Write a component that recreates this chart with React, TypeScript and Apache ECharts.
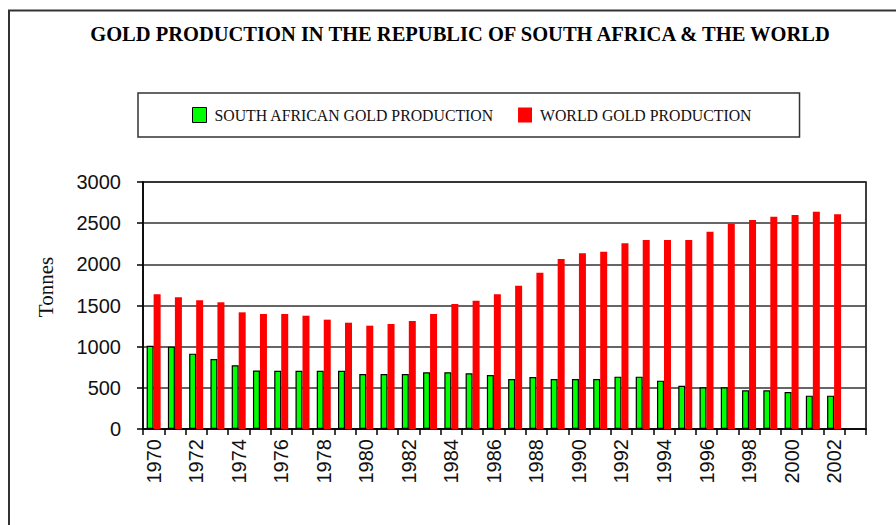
import React, { useEffect, useRef } from "react";
import * as echarts from "echarts";

const years: string[] = [
  "1970", "1971", "1972", "1973", "1974", "1975", "1976", "1977", "1978", "1979",
  "1980", "1981", "1982", "1983", "1984", "1985", "1986", "1987", "1988", "1989",
  "1990", "1991", "1992", "1993", "1994", "1995", "1996", "1997", "1998", "1999",
  "2000", "2001", "2002", "",
];

const southAfrica: number[] = [
  1010, 1000, 915, 850, 775, 710, 708, 708, 708, 708,
  668, 668, 668, 688, 688, 676, 656, 607, 632, 607,
  607, 607, 636, 636, 587, 526, 506, 506, 470, 470,
  449, 405, 405,
];

const world: number[] = [
  1636, 1600, 1563, 1539, 1417, 1397, 1397, 1376, 1328, 1291,
  1255, 1275, 1312, 1397, 1518, 1559, 1636, 1741, 1899, 2065,
  2134, 2154, 2255, 2296, 2296, 2296, 2397, 2494, 2539, 2579,
  2599, 2640, 2608,
];

const yTicks = { min: 0, max: 3000, interval: 500 };

const TITLE = "GOLD PRODUCTION IN THE REPUBLIC OF SOUTH AFRICA & THE WORLD";
const SA_NAME = "SOUTH AFRICAN GOLD PRODUCTION";
const WORLD_NAME = "WORLD GOLD PRODUCTION";

export default function App() {
  const ref = useRef<HTMLDivElement>(null);

  useEffect(() => {
    if (!ref.current) return;
    const chart = echarts.init(ref.current, undefined, { renderer: "svg" });
    chart.setOption({
      animation: false,
      backgroundColor: "#ffffff",
      title: {
        text: TITLE,
        left: 460,
        textAlign: "center",
        top: 23,
        padding: 0,
        textStyle: {
          fontFamily: "Liberation Serif",
          fontWeight: "bold",
          fontSize: 20.5,
          color: "#000",
        },
      },
      legend: {
        left: 138,
        top: 93,
        padding: [14, 48, 14, 54],
        borderColor: "#333",
        borderWidth: 1.5,
        itemWidth: 14,
        itemHeight: 15,
        itemGap: 24,
        icon: "rect",
        textStyle: {
          fontFamily: "Liberation Serif",
          fontSize: 15.8,
          color: "#111",
          padding: [0, 0, 0, 3],
        },
        data: [
          { name: SA_NAME, itemStyle: { color: "#00ff00", borderColor: "#000", borderWidth: 1 } },
          { name: WORLD_NAME, itemStyle: { color: "#ff0000", borderWidth: 0 } },
        ],
      },
      grid: {
        left: 143,
        right: 30,
        top: 182,
        bottom: 96,
        show: true,
        borderColor: "#000",
        borderWidth: 1.5,
        backgroundColor: "transparent",
      },
      xAxis: {
        type: "category",
        data: years,
        boundaryGap: true,
        axisLine: { lineStyle: { color: "#000", width: 1.5 } },
        axisTick: { show: true, interval: 0, length: 6, lineStyle: { color: "#000", width: 1.5 } },
        axisLabel: {
          interval: 1,
          rotate: 90,
          margin: 10,
          fontFamily: "Liberation Sans",
          fontSize: 20,
          color: "#111",
        },
        splitLine: { show: false },
      },
      yAxis: {
        type: "value",
        min: yTicks.min,
        max: yTicks.max,
        interval: yTicks.interval,
        axisLine: { show: true, lineStyle: { color: "#000", width: 1.5 } },
        axisTick: { show: true, length: 6, lineStyle: { color: "#000", width: 1.5 } },
        axisLabel: {
          margin: 22,
          fontFamily: "Liberation Sans",
          fontSize: 20,
          color: "#111",
          formatter: (v: number) => String(v),
        },
        splitLine: { show: true, lineStyle: { color: "#333", width: 1.5 } },
      },
      series: [
        {
          name: SA_NAME,
          type: "bar",
          data: southAfrica,
          barWidth: 7,
          barGap: "0%",
          itemStyle: { color: "#00ff00", borderColor: "#000", borderWidth: 1.2 },
        },
        {
          name: WORLD_NAME,
          type: "bar",
          data: world,
          barWidth: 7,
          barGap: "0%",
          itemStyle: { color: "#ff0000" },
        },
      ],
      graphic: [
        {
          type: "rect",
          shape: { x: 9, y: 10.5, width: 1000, height: 1000 },
          style: { fill: "none", stroke: "#333", lineWidth: 2 },
          silent: true,
        },
        {
          type: "text",
          x: 46,
          y: 287,
          rotation: Math.PI / 2,
          style: {
            text: "Tonnes",
            fontFamily: "Liberation Serif",
            fontSize: 21,
            fill: "#111",
            align: "center",
            verticalAlign: "middle",
          },
        },
      ],
    });
    return () => chart.dispose();
  }, []);

  return (
    <div
      ref={ref}
      style={{ position: "fixed", left: 0, top: 0, width: 896, height: 525 }}
    />
  );
}
